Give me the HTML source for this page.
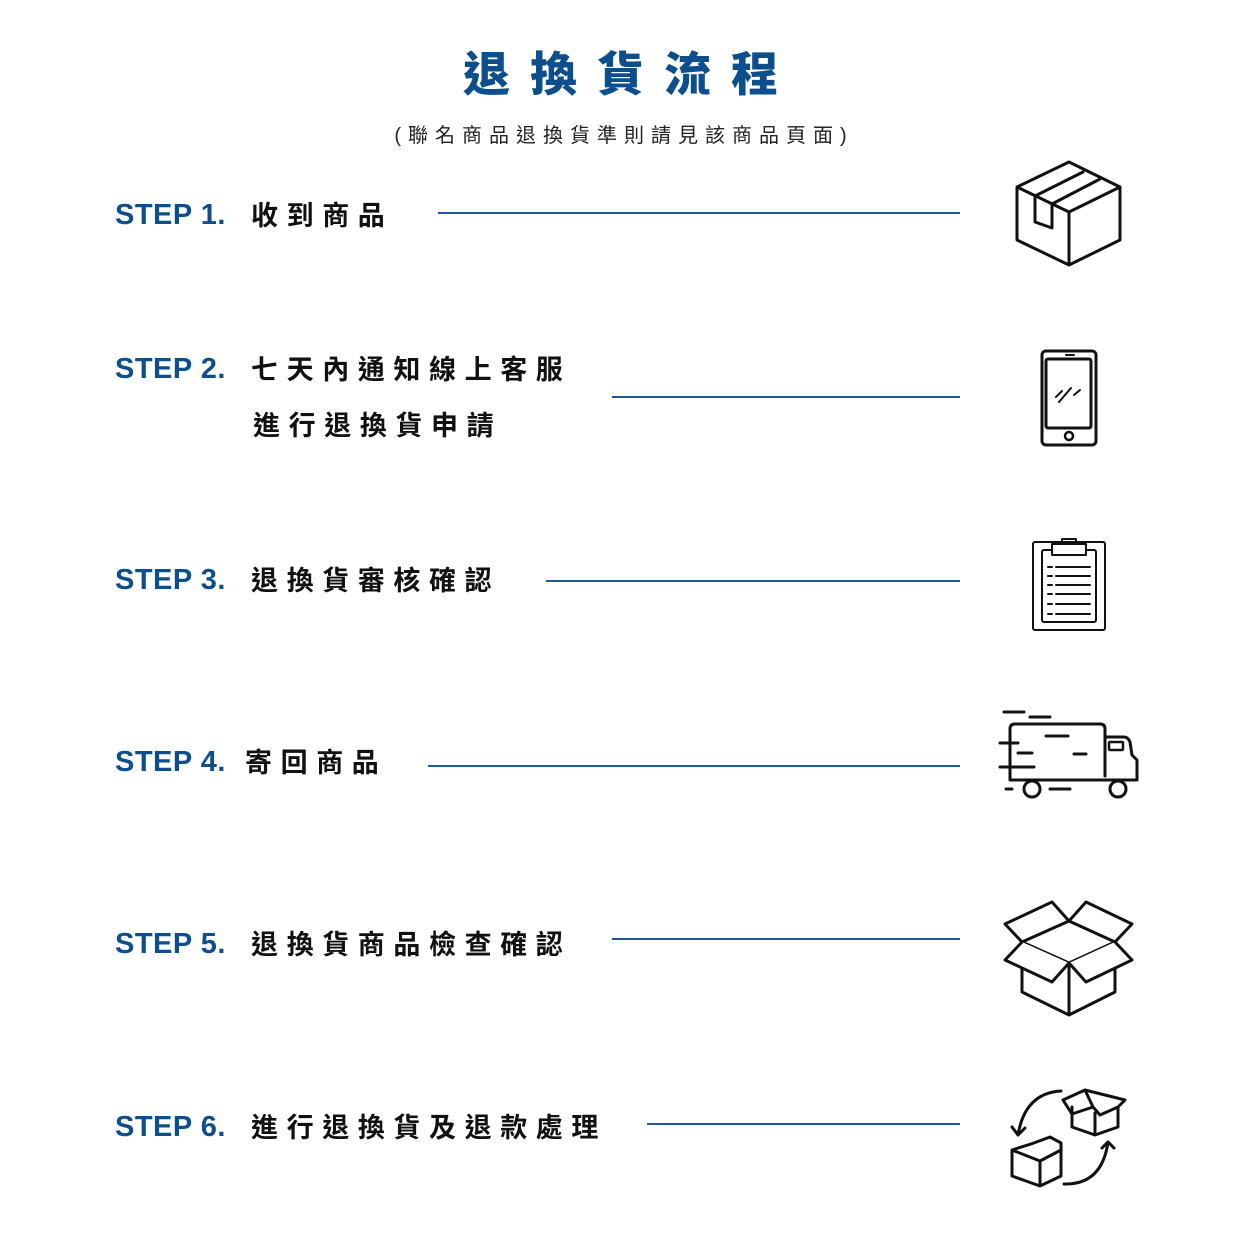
<!DOCTYPE html>
<html><head><meta charset="utf-8"><style>
body{margin:0;width:1241px;height:1247px;background:#fff;position:relative;overflow:hidden;font-family:"Liberation Sans","Noto Sans CJK TC",sans-serif}
.a{position:absolute;white-space:nowrap}
.t{left:0;width:1241px;text-align:center;top:36px;font-size:47px;font-weight:900;color:#0d4f8c;letter-spacing:20px;text-indent:20px}
.s{left:0;width:1241px;text-align:center;top:119px;font-size:20px;color:#222;letter-spacing:7px;text-indent:7px}
.st{left:115px;font-size:29px;font-weight:900;color:#0d4f8c;font-family:"Liberation Sans",sans-serif;letter-spacing:0.5px}
.c{font-size:27px;color:#111;letter-spacing:8.6px;font-weight:bold}
.l{height:2px;background:#1d5a96}
</style></head><body>
<div class="a t">退換貨流程</div>
<div class="a s">(聯名商品退換貨準則請見該商品頁面)</div>

<div class="a st" style="top:199px">STEP 1.</div>
<div class="a c" style="left:251px;top:194px">收到商品</div>
<div class="a l" style="left:438px;top:212px;width:522px"></div>

<div class="a st" style="top:353px">STEP 2.</div>
<div class="a c" style="left:251px;top:348px">七天內通知線上客服</div>
<div class="a c" style="left:253px;top:404px">進行退換貨申請</div>
<div class="a l" style="left:612px;top:396px;width:348px"></div>

<div class="a st" style="top:564px">STEP 3.</div>
<div class="a c" style="left:251px;top:559px">退換貨審核確認</div>
<div class="a l" style="left:546px;top:580px;width:414px"></div>

<div class="a st" style="top:746px">STEP 4.</div>
<div class="a c" style="left:245px;top:741px">寄回商品</div>
<div class="a l" style="left:428px;top:765px;width:532px"></div>

<div class="a st" style="top:928px">STEP 5.</div>
<div class="a c" style="left:251px;top:923px">退換貨商品檢查確認</div>
<div class="a l" style="left:612px;top:938px;width:348px"></div>

<div class="a st" style="top:1111px">STEP 6.</div>
<div class="a c" style="left:251px;top:1106px">進行退換貨及退款處理</div>
<div class="a l" style="left:647px;top:1123px;width:313px"></div>

<svg class="a" style="left:0;top:0" width="1241" height="1247" fill="none" stroke="#111" stroke-width="3" stroke-linejoin="round" stroke-linecap="round">
<path d="M1069 162L1017 187L1017 240L1069 265L1120 240L1120 187Z M1017 187L1069 212L1120 187 M1069 212V265"/>
<path d="M1035 196L1083 172 M1052 204L1100 179 M1035 196V222L1052 228V204"/>
<rect x="1042" y="351" width="54" height="94" rx="4"/>
<rect x="1046" y="359" width="45" height="69" rx="2"/>
<path d="M1066 355H1074 M1056 397L1062 391 M1059 402L1071 388 M1074 395L1080 390" stroke-width="2"/>
<circle cx="1069" cy="436" r="4" stroke-width="2.5"/>
<rect x="1033" y="542" width="72" height="88" rx="2" stroke-width="2"/>
<rect x="1042" y="550" width="54" height="72" rx="2" stroke-width="2"/>
<rect x="1052" y="544" width="34" height="11" fill="#fff" stroke-width="2"/>
<rect x="1062" y="539" width="14" height="5" stroke-width="2"/>
<path d="M1048 567H1052M1056 567H1090M1048 576H1052M1056 576H1090M1048 585H1052M1056 585H1090M1048 594H1052M1056 594H1090M1048 604H1052M1056 604H1090M1048 614H1052M1056 614H1090" stroke-width="2"/>
<path d="M1010 776V729Q1010 724 1015 724H1100Q1105 724 1105 729V776 M1105 737H1124Q1128 737 1130 742L1132 755L1137 760V780H1010V776"/>
<rect x="1109" y="742" width="14" height="8" rx="1" stroke-width="2.5"/>
<circle cx="1032" cy="789" r="8" fill="#fff"/><circle cx="1118" cy="789" r="8" fill="#fff"/>
<path d="M1004 712H1024M1030 717H1050M1000 743H1018M1018 753H1032M1046 736H1068M1074 754H1086M1000 767H1034M1006 789H1012M1050 789H1070"/>
<path d="M1022 942L1069 921L1115 942L1069 963Z M1022 942V992L1069 1015L1115 992V942 M1069 963V1015"/>
<path d="M1022 942L1005 924L1052 902L1069 921 M1115 942L1132 924L1086 902L1069 921"/>
<path d="M1022 942L1005 960L1052 982L1069 963 M1115 942L1132 960L1086 982L1069 963" fill="#fff"/>
<path d="M1031 1144L1050 1137L1061 1143V1176L1040 1186L1012 1176V1150Z M1012 1150L1040 1161L1061 1150 M1040 1161V1186"/>
<path d="M1072 1107V1127L1095 1135L1118 1127V1107 M1095 1113V1135"/>
<path d="M1063 1100L1085 1090L1125 1100L1118 1107L1100 1115L1093 1107L1072 1114Z M1085 1090L1093 1107"/>
<path d="M1061 1091Q1025 1093 1018 1135 M1012 1127L1018 1135L1025 1128"/>
<path d="M1064 1184Q1102 1185 1108 1142 M1102 1148L1108 1142L1114 1148"/>
</svg>
</body></html>
